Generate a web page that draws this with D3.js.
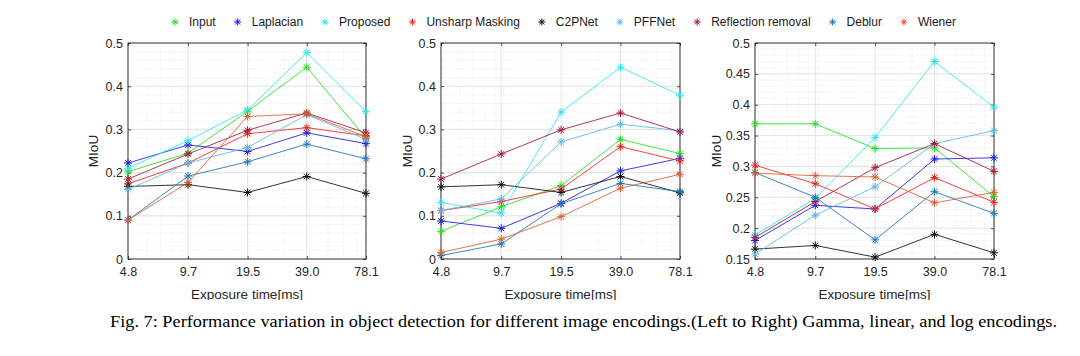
<!DOCTYPE html>
<html>
<head>
<meta charset="utf-8">
<script src="https://cdn.jsdelivr.net/npm/d3@7"></script>
<style>
  html, body { margin: 0; padding: 0; background: #fff; }
  svg { display: block; }
</style>
</head>
<body>
<svg id="chart" width="1080" height="356"></svg>
<script>
// ---------------- DATA ----------------
const exposures = [4.8, 9.7, 19.5, 39.0, 78.1];
const xTickLabels = ["4.8", "9.7", "19.5", "39.0", "78.1"];
const seriesNames = ["Input", "Laplacian", "Proposed", "Unsharp Masking", "C2PNet",
                     "PFFNet", "Reflection removal", "Deblur", "Wiener"];
const seriesColors = ["#22e022", "#1a1ae6", "#2ae6ee", "#ee2222", "#111111",
                      "#5ab8e6", "#a3183a", "#1f74b8", "#d9602a"];

// Gamma encoding (left)
const gammaValues = [
  [0.202, 0.245, 0.342, 0.444, 0.280],
  [0.222, 0.264, 0.249, 0.292, 0.267],
  [0.210, 0.274, 0.345, 0.478, 0.341],
  [0.174, 0.222, 0.290, 0.304, 0.285],
  [0.168, 0.172, 0.154, 0.191, 0.152],
  [0.161, 0.222, 0.258, 0.334, 0.277],
  [0.185, 0.243, 0.298, 0.338, 0.292],
  [0.090, 0.192, 0.225, 0.266, 0.232],
  [0.090, 0.177, 0.330, 0.336, 0.283]
];
// Linear encoding (middle)
const linearValues = [
  [0.064, 0.121, 0.170, 0.277, 0.244],
  [0.088, 0.071, 0.129, 0.204, 0.233],
  [0.131, 0.106, 0.340, 0.444, 0.379],
  [0.112, 0.133, 0.162, 0.260, 0.227],
  [0.167, 0.172, 0.154, 0.191, 0.153],
  [0.112, 0.139, 0.271, 0.312, 0.297],
  [0.185, 0.243, 0.299, 0.338, 0.294],
  [0.008, 0.035, 0.128, 0.175, 0.156],
  [0.015, 0.046, 0.098, 0.164, 0.196]
];
// Log encoding (right)
const logValues = [
  [0.369, 0.369, 0.329, 0.330, 0.251],
  [0.180, 0.237, 0.231, 0.312, 0.314],
  [0.189, 0.248, 0.347, 0.470, 0.396],
  [0.302, 0.272, 0.231, 0.282, 0.242],
  [0.166, 0.172, 0.153, 0.190, 0.160],
  [0.158, 0.221, 0.267, 0.337, 0.358],
  [0.185, 0.243, 0.298, 0.337, 0.292],
  [0.290, 0.250, 0.181, 0.259, 0.224],
  [0.289, 0.285, 0.283, 0.241, 0.258]
];

const yTicksLinear = [0, 0.1, 0.2, 0.3, 0.4, 0.5];
const yTicksLog = [0.15, 0.2, 0.25, 0.3, 0.35, 0.4, 0.45, 0.5];
const xMinorTicks = [5, 6, 7, 8, 9, 10, 20, 30, 40, 50, 60, 70];

const yLabel = "MIoU";
const xLabel = "Exposure time[ms]";
const caption = "Fig. 7: Performance variation in object detection for different image encodings.(Left to Right) Gamma, linear, and log encodings.";

// ---------------- DRAW ----------------
const svg = d3.select("#chart");
svg.append("rect").attr("width", 1080).attr("height", 356).attr("fill", "#fff");

const FONT = "'Liberation Sans', Arial, Helvetica, sans-serif";
const axisColor = "#262626";

const panels = [
  { values: gammaValues,  x0: 128, x1: 366, yDomain: [0, 0.5],    yTicks: yTicksLinear, minorStep: 0.02, ylabX: 93 },
  { values: linearValues, x0: 441, x1: 680, yDomain: [0, 0.5],    yTicks: yTicksLinear, minorStep: 0.02, ylabX: 407 },
  { values: logValues,    x0: 755, x1: 994, yDomain: [0.15, 0.5], yTicks: yTicksLog,    minorStep: 0.01, ylabX: 716 }
];
const yTop = 43, yBot = 259;

function asterisk(g, cx, cy, r, color) {
  const d = r * Math.SQRT1_2;
  const path = `M${cx - r},${cy}L${cx + r},${cy}M${cx},${cy - r}L${cx},${cy + r}` +
               `M${cx - d},${cy - d}L${cx + d},${cy + d}M${cx - d},${cy + d}L${cx + d},${cy - d}`;
  g.append("path").attr("d", path).attr("stroke", color).attr("stroke-width", 1).attr("fill", "none");
}

const fmt = v => String(+v.toFixed(2));

panels.forEach(p => {
  const x = d3.scaleLog().domain([exposures[0], exposures[exposures.length - 1]]).range([p.x0, p.x1]);
  const y = d3.scaleLinear().domain(p.yDomain).range([yBot, yTop]);
  const g = svg.append("g");

  // minor grid
  const minorY = d3.range(p.yDomain[0], p.yDomain[1] + 1e-9, p.minorStep);
  g.selectAll(".mgy").data(minorY).enter().append("line")
    .attr("x1", p.x0).attr("x2", p.x1)
    .attr("y1", d => y(d)).attr("y2", d => y(d))
    .attr("stroke", "#e3e3e3").attr("stroke-width", 0.6).attr("stroke-dasharray", "1,1.5");
  g.selectAll(".mgx").data(xMinorTicks).enter().append("line")
    .attr("x1", d => x(d)).attr("x2", d => x(d))
    .attr("y1", yTop).attr("y2", yBot)
    .attr("stroke", "#e3e3e3").attr("stroke-width", 0.6).attr("stroke-dasharray", "1,1.5");

  // major grid
  g.selectAll(".gy").data(p.yTicks).enter().append("line")
    .attr("x1", p.x0).attr("x2", p.x1)
    .attr("y1", d => y(d)).attr("y2", d => y(d))
    .attr("stroke", "#d8d8d8").attr("stroke-width", 0.7);
  g.selectAll(".gx").data(exposures).enter().append("line")
    .attr("x1", d => x(d)).attr("x2", d => x(d))
    .attr("y1", yTop).attr("y2", yBot)
    .attr("stroke", "#d8d8d8").attr("stroke-width", 0.7);

  // axes via d3-axis
  const xAxis = d3.axisBottom(x).tickValues(exposures)
    .tickFormat((d, i) => xTickLabels[i]).tickSizeInner(-3).tickSizeOuter(0).tickPadding(8);
  const yAxis = d3.axisLeft(y).tickValues(p.yTicks)
    .tickFormat(fmt).tickSizeInner(-3).tickSizeOuter(0).tickPadding(5);
  const xa = g.append("g").attr("transform", `translate(0,${yBot})`).call(xAxis);
  const ya = g.append("g").attr("transform", `translate(${p.x0},0)`).call(yAxis);
  const xt = g.append("g").attr("transform", `translate(0,${yTop})`)
    .call(d3.axisTop(x).tickValues(exposures).tickFormat("").tickSizeInner(-3).tickSizeOuter(0));
  const yr = g.append("g").attr("transform", `translate(${p.x1},0)`)
    .call(d3.axisRight(y).tickValues(p.yTicks).tickFormat("").tickSizeInner(-3).tickSizeOuter(0));
  [xa, ya, xt, yr].forEach(a => {
    a.select(".domain").remove();
    a.selectAll("line").attr("stroke", axisColor).attr("stroke-width", 0.8);
    a.selectAll("text").attr("fill", axisColor).style("font-family", FONT).style("font-size", "12.5px");
  });
  xa.selectAll("text").attr("dy", "0.71em");

  // box
  g.append("rect").attr("x", p.x0).attr("y", yTop)
    .attr("width", p.x1 - p.x0).attr("height", yBot - yTop)
    .attr("fill", "none").attr("stroke", axisColor).attr("stroke-width", 0.9);

  // y label
  g.append("text").attr("transform", `translate(${p.ylabX},${(yTop + yBot) / 2}) rotate(-90)`)
    .attr("text-anchor", "middle").attr("dy", "0.35em")
    .style("font-family", FONT).style("font-size", "13.5px").attr("fill", axisColor).text(yLabel);
  // x label
  g.append("text").attr("x", (p.x0 + p.x1) / 2).attr("y", 299)
    .attr("text-anchor", "middle")
    .style("font-family", FONT).style("font-size", "13.5px").attr("fill", axisColor).text(xLabel);

  // series
  const line = d3.line().x((d, i) => x(exposures[i])).y(d => y(d));
  p.values.forEach((vals, si) => {
    const sg = g.append("g");
    sg.append("path").attr("d", line(vals)).attr("fill", "none")
      .attr("stroke", seriesColors[si]).attr("stroke-width", 1).attr("stroke-opacity", 0.85);
    vals.forEach((v, i) => asterisk(sg, x(exposures[i]), y(v), 4, seriesColors[si]));
  });
});

// crop the bottom of the figure like the reference
svg.append("rect").attr("x", 0).attr("y", 300).attr("width", 1080).attr("height", 56).attr("fill", "#fff");

// legend
const legend = svg.append("g");
let lx = 175;
const ly = 22;
seriesNames.forEach((name, i) => {
  asterisk(legend, lx, ly, 3.5, seriesColors[i]);
  const t = legend.append("text").attr("x", lx + 14).attr("y", ly).attr("dy", "0.35em")
    .style("font-family", FONT).style("font-size", "12px").attr("fill", "#1a1a1a").text(name);
  lx = lx + 14 + t.node().getComputedTextLength() + 22;
});

// caption
svg.append("text").attr("x", 110).attr("y", 327)
  .attr("textLength", 947).attr("lengthAdjust", "spacingAndGlyphs")
  .style("font-family", "'Liberation Serif', 'Times New Roman', serif").style("font-size", "16.5px")
  .attr("fill", "#000").text(caption);
</script>
</body>
</html>
